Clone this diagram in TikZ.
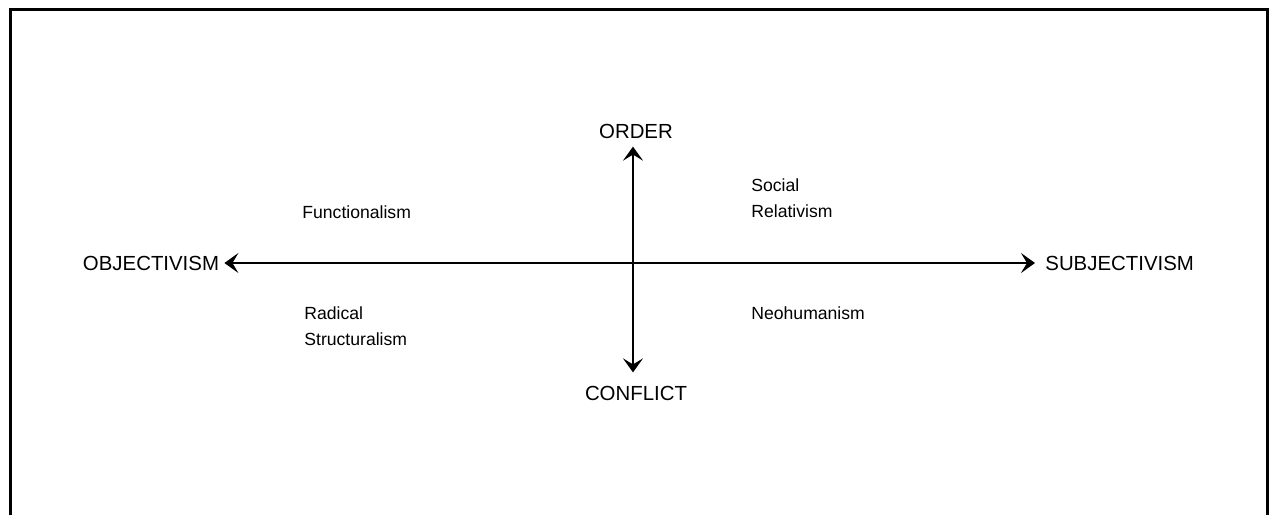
\documentclass[tikz,border=0pt]{standalone}
\usepackage{fontspec}
\setmainfont{Liberation Sans}
\usetikzlibrary{arrows.meta}

\tikzset{
    axis/.style={line width=1pt, {Stealth[length=7pt,width=10pt,inset=3pt]}-{Stealth[length=7pt,width=10pt,inset=3pt]}},
    pole/.style={inner sep=0pt, font=\fontsize{10.2}{12}\selectfont},
    school/.style={inner sep=0pt, anchor=west, align=left, font=\fontsize{8.8}{13}\selectfont}
}

\begin{document}
\begin{tikzpicture}[x=0.5pt, y=-0.5pt]
\useasboundingbox (0,0) rectangle (1276,515);

% frame
\draw[line width=1.5pt] (10,515) -- (10,9) -- (1267,9) -- (1267,515);

% poles
\node[pole] (obj) at (151,263) {OBJECTIVISM};
\node[pole, anchor=west] (subj) at (1045,263) {SUBJECTIVISM};
\node[pole] (ord) at (636,131) {ORDER};
\node[pole] (con) at (636,393) {CONFLICT};

% axis ends
\path (obj.east) ++(5,0) coordinate (objtip);
\path (subj.west) ++(-10,0) coordinate (subjtip);
\path (ord.south) ++(-3,8) coordinate (ordtip);
\path (con.north) ++(-3,-13) coordinate (contip);

% axes
\draw[axis] (objtip) -- (subjtip);
\draw[axis] (ordtip) -- (contip);

% paradigms
\node[school] (func) at (302,212) {Functionalism};
\node[school] (soc) at (751,198) {Social\\Relativism};
\node[school] (rad) at (304,326) {Radical\\Structuralism};
\node[school] (neo) at (751,313) {Neohumanism};

\end{tikzpicture}
\end{document}
